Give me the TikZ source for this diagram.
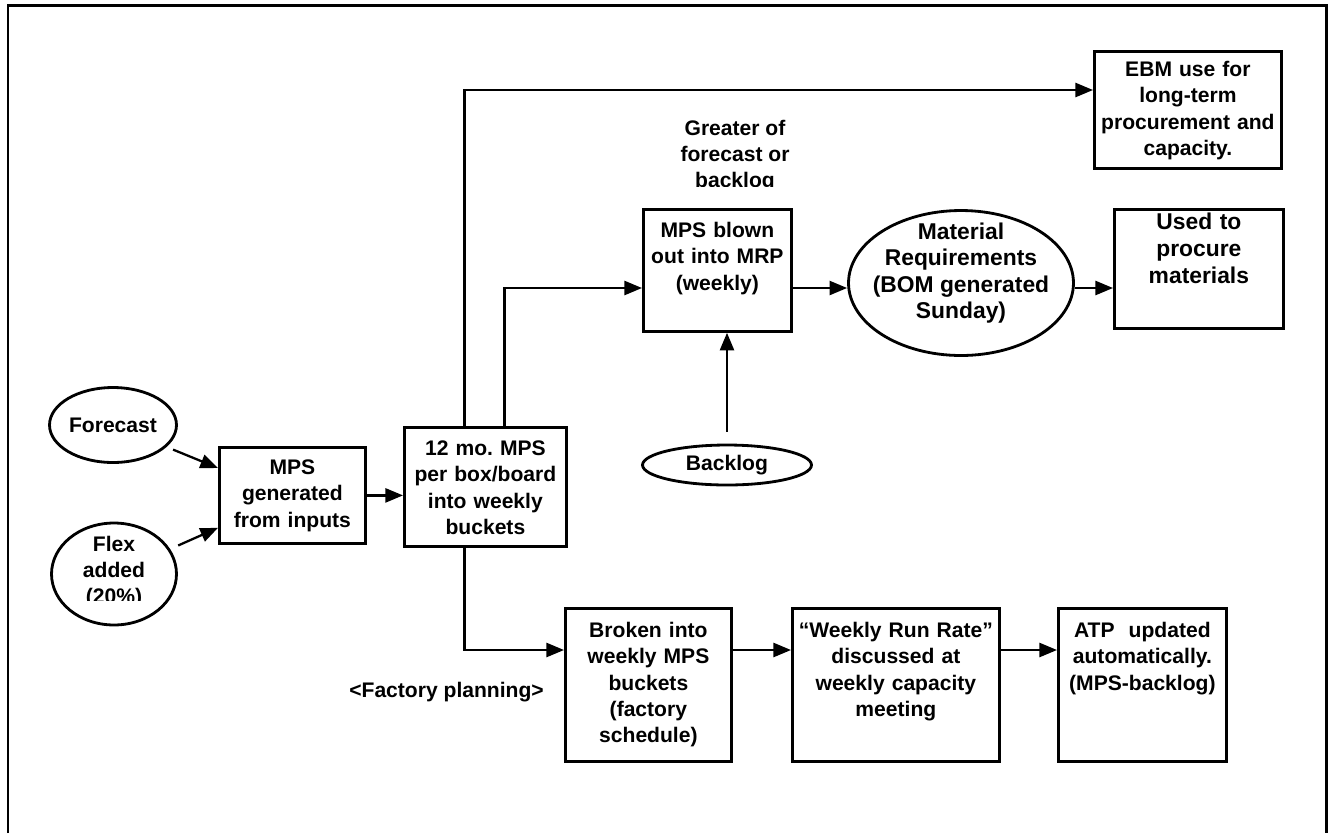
\documentclass[tikz,border=0pt]{standalone}
\usepackage{fontspec}
\setmainfont{Liberation Sans}
\usetikzlibrary{arrows.meta,shapes.geometric}
\frenchspacing

\begin{document}
\begin{tikzpicture}[x=0.02cm,y=-0.02cm,
 font=\fontsize{12}{15}\selectfont\bfseries,
 box/.style={draw,line width=1.6pt,anchor=north west,align=center,inner sep=0pt},
 oval/.style={ellipse,draw,line width=1.6pt,align=center,inner sep=0pt},
 arr/.style={-{Triangle[length=10pt,width=8pt]},line width=1.3pt}]
\useasboundingbox (0,0) rectangle (1336,833);
% frame, open at the bottom
\draw[line width=1.7pt] (8,833) |- (1326,5) -- (1326,833);

% inputs
\node[oval,minimum width=2.54cm,minimum height=1.5cm] (fc) at (113,425) {Forecast};
\node[oval,minimum width=2.5cm,minimum height=2.04cm] (flex) at (114,574) {};
\begin{scope}
\clip (40,520) rectangle (190,600);
\node[align=center] (flextxt) at (114,572) {Flex\\added\\(20\%)};
\end{scope}

\node[box,text width=2.92cm,text height=0.54cm,text depth=1.38cm] (gen) at (218,446) {MPS\\generated\\from inputs};
\node[box,text width=3.24cm,text height=0.56cm,text depth=1.82cm] (twelve) at (403,426) {12 mo. MPS\\per box/board\\into weekly\\buckets};

% upper branch
\node[box,text width=3.74cm,text height=0.50cm,text depth=1.84cm] (ebm) at (1093,50) {EBM use for\\long-term\\procurement and\\capacity.};
\begin{scope}
\clip (620,100) rectangle (860,186);
\node[align=center] (greater) at (735,156) {Greater of\\forecast or\\backlog};
\end{scope}
\node[box,text width=2.96cm,text height=0.56cm,text depth=1.88cm] (blown) at (642,208) {MPS blown\\out into MRP\\(weekly)};
\node[oval,minimum width=4.5cm,minimum height=2.9cm] (mat) at (961,283) {};
\node[align=center,font=\fontsize{13}{15}\selectfont\bfseries] (mattxt) at (961,273) {Material\\Requirements\\(BOM generated\\Sunday)};
\node[box,font=\fontsize{13}{15.5}\selectfont\bfseries,text width=3.38cm,text height=0.40cm,text depth=1.98cm] (used) at (1113,208) {Used to\\procure\\materials};
\node[oval,minimum width=3.38cm,minimum height=0.8cm] (backlog) at (727,465) {Backlog};

% factory row
\node[box,text width=3.32cm,text height=0.58cm,text depth=2.48cm] (broken) at (564,607) {Broken into\\weekly MPS\\buckets\\(factory\\schedule)};
\node[box,text width=4.14cm,text height=0.58cm,text depth=2.48cm] (weekly) at (791,607) {“Weekly Run Rate”\\discussed at\\weekly capacity\\meeting};
\node[box,text width=3.36cm,text height=0.58cm,text depth=2.48cm] (atp) at (1057,607) {ATP~~updated\\automatically.\\(MPS-backlog)};
\node[anchor=east] (fplan) at (550,692) {<Factory planning>};

\coordinate (erow) at (0,90);
\coordinate (mrow) at (0,288);
\coordinate (frow) at (0,650);

\draw[arr,shorten <=4pt] (fc) -- ([yshift=-0.44cm]gen.north west);
\draw[arr,shorten <=5pt] (flex) -- ([yshift=0.34cm]gen.south west);
\draw[arr] (gen.east) -- (gen.east -| twelve.west);
\draw[arr] ([xshift=-0.42cm]twelve.north) |- (ebm.west |- erow);
\draw[arr] ([xshift=0.38cm]twelve.north) |- (blown.west |- mrow);
\draw[arr] (blown.east |- mrow) -- (mat.west |- mrow);
\draw[arr] (mat.east |- mrow) -- (used.west |- mrow);
\draw[arr,shorten <=0.24cm] (backlog.north) -- (backlog.north |- blown.south);
\draw[arr] ([xshift=-0.42cm]twelve.south) |- (broken.west |- frow);
\draw[arr] (broken.east |- frow) -- (weekly.west |- frow);
\draw[arr] (weekly.east |- frow) -- (atp.west |- frow);
\end{tikzpicture}
\end{document}
